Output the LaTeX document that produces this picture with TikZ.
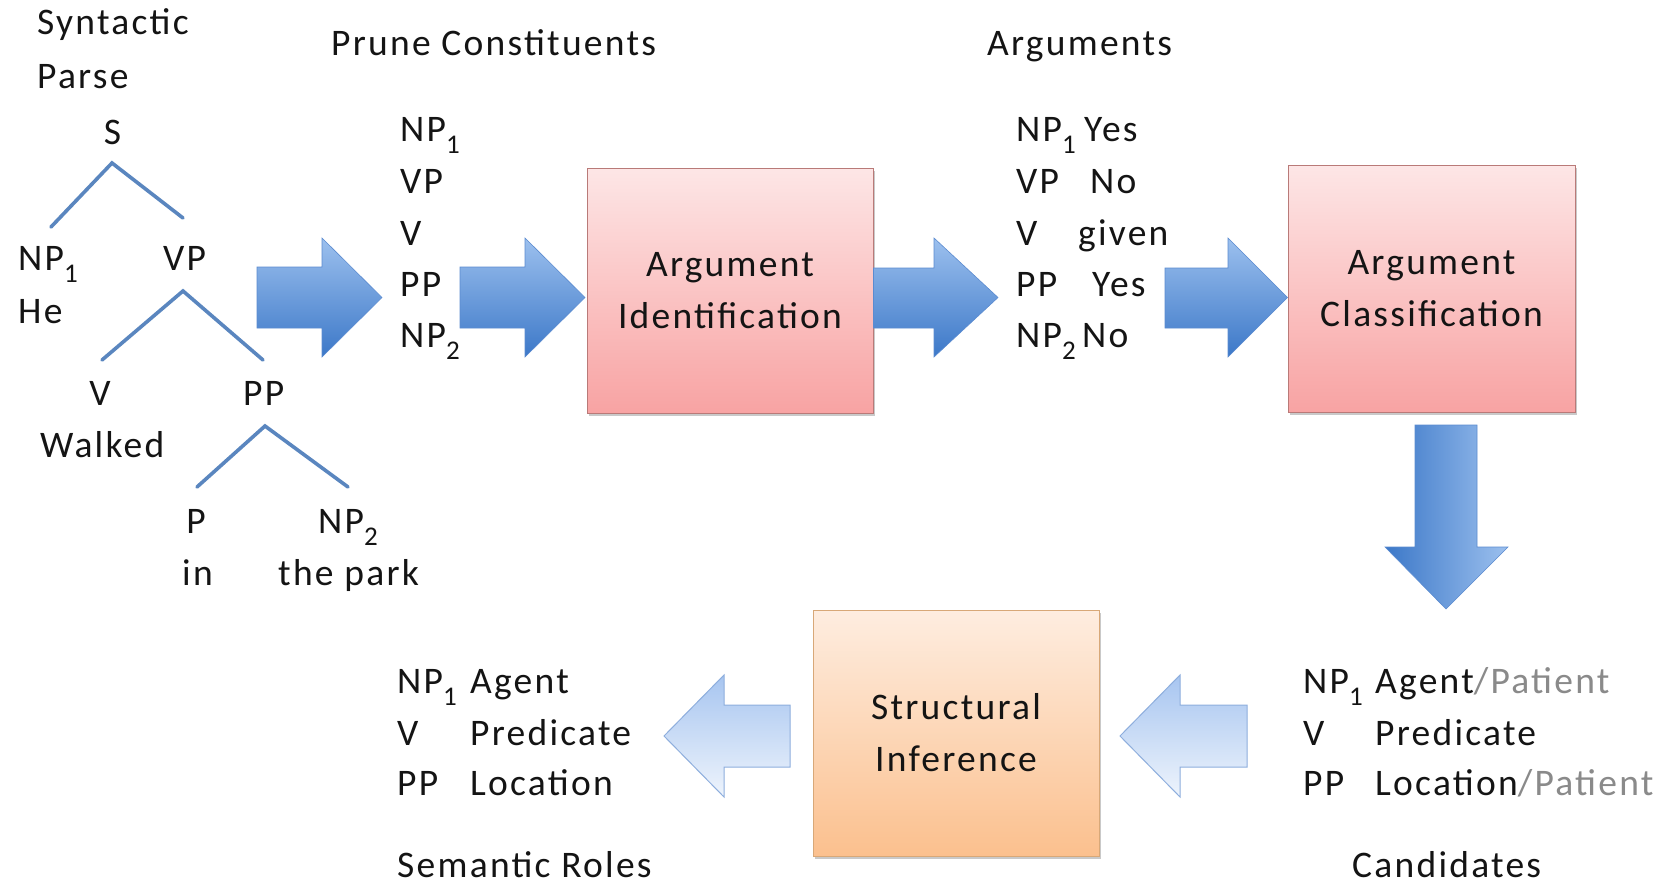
\documentclass[tikz,border=0pt]{standalone}
\usepackage{fontspec}
\setmainfont{Carlito}[LetterSpace=6]
\usetikzlibrary{shadows}
\definecolor{treeblue}{HTML}{5A86BF}
\definecolor{arrTop}{HTML}{9CC0EE}
\definecolor{arrBot}{HTML}{3C78C8}
\definecolor{arrEdge}{HTML}{5B8BD0}
\definecolor{lightTop}{HTML}{A7C5F0}
\definecolor{lightBot}{HTML}{EEF4FC}
\definecolor{lightEdge}{HTML}{8EAEDD}
\definecolor{redTop}{HTML}{FDE6E6}
\definecolor{redBot}{HTML}{F8A3A3}
\definecolor{redEdge}{HTML}{B97A78}
\definecolor{orTop}{HTML}{FEEDE0}
\definecolor{orBot}{HTML}{FBC08E}
\definecolor{orEdge}{HTML}{D8A878}
\definecolor{txtc}{HTML}{141414}
\definecolor{grayc}{HTML}{8A8A8A}
\newcommand{\sbs}[1]{\raisebox{-12pt}{\fontsize{27}{27}\selectfont #1}}
\tikzset{
  lbl/.style={inner sep=0pt, anchor=base west, text=txtc, font=\fontsize{37.5}{52}\selectfont},
  clbl/.style={lbl, anchor=base},
  treeline/.style={draw=treeblue, line width=3.6pt, line cap=round},
  barrow/.style={top color=arrTop, bottom color=arrBot, draw=arrEdge, line width=0.6pt, line join=miter},
  darrow/.style={left color=arrBot, right color=arrTop, draw=arrEdge, line width=0.6pt},
  larrow/.style={top color=lightTop, bottom color=lightBot, draw=lightEdge, line width=1pt},
  procbox/.style={inner sep=0pt, align=center, text=txtc, font=\fontsize{37.5}{52}\selectfont,
     drop shadow={shadow xshift=2pt, shadow yshift=-3pt, opacity=0.35, fill=black!60}},
  redbox/.style={procbox, top color=redTop, bottom color=redBot, draw=redEdge, line width=1pt},
  orbox/.style={procbox, top color=orTop, bottom color=orBot, draw=orEdge, line width=1pt}
}
\begin{document}
\begin{tikzpicture}[x=1pt,y=-1pt]
\useasboundingbox (0,0) rectangle (1673,888);
\fill[white] (0,0) rectangle (1673,888);

% ---- syntactic parse tree ----
\node[lbl] (syn) at (37,35) {Syntactic};
\node[lbl] (parse) at (37,89) {Parse};
\node[clbl] (S) at (112.5,145) {S};
\node[lbl] (np1t) at (18,270) {NP\sbs{1}};
\node[lbl] (vpt) at (163,270) {VP};
\node[lbl] (he) at (18,323) {He};
\node[clbl] (vt) at (100,405) {V};
\node[lbl] (ppt) at (243,405) {PP};
\node[lbl] (walked) at (40,457) {Walked};
\node[clbl] (pt) at (196,533) {P};
\node[lbl] (np2t) at (318,533) {NP\sbs{2}};
\node[lbl] (in) at (182,585) {in};
\node[lbl] (park) at (278,585) {the park};

\coordinate (sL) at (51,227);  \coordinate (sA) at (112,163); \coordinate (sR) at (183,218);
\coordinate (vL) at (102,360); \coordinate (vA) at (183,291); \coordinate (vR) at (263,360);
\coordinate (pL) at (197,487); \coordinate (pA) at (265,426); \coordinate (pR) at (348,487);
\draw[treeline] (sL) -- (sA) -- (sR);
\draw[treeline] (vL) -- (vA) -- (vR);
\draw[treeline] (pL) -- (pA) -- (pR);

% ---- prune constituents ----
\node[lbl] (prune) at (331,56) {Prune Constituents};
\node[lbl] (c1) at (400,142) {NP\sbs{1}};
\node[lbl] (c2) at (400,193) {VP};
\node[lbl] (c3) at (400,245) {V};
\node[lbl] (c4) at (400,296) {PP};
\node[lbl] (c5) at (400,347) {NP\sbs{2}};

% ---- arguments ----
\node[lbl] (args) at (987,56) {Arguments};
\node[lbl] (a1) at (1016,142) {NP\sbs{1}};
\node[lbl] (a1v) at (1084,142) {Yes};
\node[lbl] (a2) at (1016,193) {VP};
\node[lbl] (a2v) at (1090,193) {No};
\node[lbl] (a3) at (1016,245) {V};
\node[lbl] (a3v) at (1078,245) {given};
\node[lbl] (a4) at (1016,296) {PP};
\node[lbl] (a4v) at (1092,296) {Yes};
\node[lbl] (a5) at (1016,347) {NP\sbs{2}};
\node[lbl] (a5v) at (1082,347) {No};

% ---- process boxes ----
\node[redbox, minimum width=286pt, minimum height=245pt] (ident) at (730,290.5) {Argument\\Identification};
\node[redbox, minimum width=287pt, minimum height=247pt] (class) at (1431.5,288.5) {Argument\\Classification};
\node[orbox, minimum width=286pt, minimum height=246pt] (infer) at (956,733) {Structural\\Inference};

% ---- candidates ----
\node[lbl] (k1) at (1303,693) {NP\sbs{1}};
\node[lbl] (k1v) at (1375,693) {Agent\textcolor{grayc}{/Patient}};
\node[lbl] (k2) at (1303,745) {V};
\node[lbl] (k2v) at (1375,745) {Predicate};
\node[lbl] (k3) at (1303,795) {PP};
\node[lbl] (k3v) at (1375,795) {Location\textcolor{grayc}{/Patient}};
\node[lbl] (cand) at (1352,877) {Candidates};

% ---- semantic roles ----
\node[lbl] (r1) at (397,693) {NP\sbs{1}};
\node[lbl] (r1v) at (470,693) {Agent};
\node[lbl] (r2) at (397,745) {V};
\node[lbl] (r2v) at (470,745) {Predicate};
\node[lbl] (r3) at (397,795) {PP};
\node[lbl] (r3v) at (470,795) {Location};
\node[lbl] (roles) at (397,877) {Semantic Roles};

% ---- block arrows ----
\path[barrow] (257,267) -- (322,267) -- (322,238) -- (382,297.5) -- (322,357) -- (322,328) -- (257,328) -- cycle;
\path[barrow] (460,267) -- (525,267) -- (525,238) -- (585,297.5) -- (525,357) -- (525,328) -- (460,328) -- cycle;
\path[barrow] (ident.east |- 0,268) -- (934,268) -- (934,238) -- (998,297.5) -- (934,357) -- (934,328) -- (ident.east |- 0,328) -- cycle;
\path[barrow] (1165,268) -- (1228,268) -- (1228,238) -- (class.west |- 0,297.5) -- (1228,357) -- (1228,328) -- (1165,328) -- cycle;
\path[darrow] (1415,425) -- (1477,425) -- (1477,547) -- (1508,547) -- (1446,609) -- (1385,547) -- (1415,547) -- cycle;
\path[larrow] (1247,705) -- (1180,705) -- (1180,675) -- (1120,736) -- (1180,797) -- (1180,767) -- (1247,767) -- cycle;
\path[larrow] (790,705) -- (724,705) -- (724,675) -- (664,736) -- (724,797) -- (724,767) -- (790,767) -- cycle;
\end{tikzpicture}
\end{document}
